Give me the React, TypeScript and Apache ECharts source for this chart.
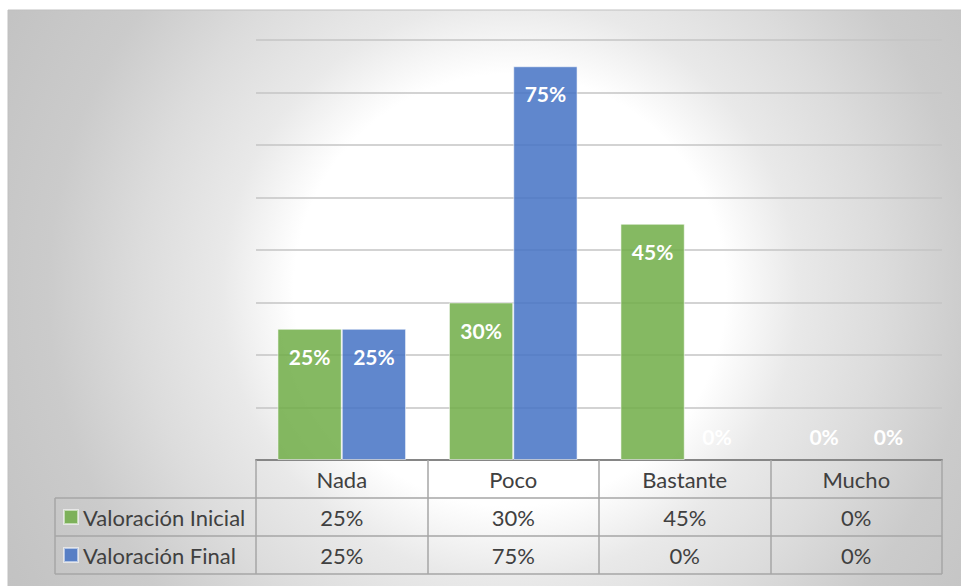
import { useEffect, useRef } from "react";
import * as echarts from "echarts";

// Survey results: share of answers per level, before and after
const categories = ["Nada", "Poco", "Bastante", "Mucho"];
const seriesNames = ["Valoración Inicial", "Valoración Final"];
const valoracionInicial = [25, 30, 45, 0];
const valoracionFinal = [25, 75, 0, 0];
const yAxisMax = 80;
const yAxisStep = 10;

const W = 961;
const H = 586;
const FONT = "Lato, 'Open Sans', sans-serif";
const TEXT = "#404040";
const TABLE_FONT = 22;

// plot area and data-table geometry
const gridLeft = 256;
const gridRight = 942;
const gridTop = 40;
const gridBottom = 460;
const rowH = 38;
const legendColLeft = 55;
const tableLine = "#a6a6a6";

const barData = (values: number[]) =>
  values.map((v) =>
    v === 0
      ? {
          value: v,
          itemStyle: { borderWidth: 0 },
          label: { position: "insideBottom", distance: 13 },
        }
      : v
  );

const tableLabel = {
  interval: 0,
  margin: 8,
  fontSize: TABLE_FONT,
  lineHeight: 22,
  color: TEXT,
  fontFamily: FONT,
};

const valueAxis = (idx: number, values: number[]) => ({
  type: "category",
  gridIndex: 0,
  position: "bottom",
  offset: rowH * idx,
  data: categories,
  axisLine: { show: false },
  axisTick: { show: false },
  splitLine: { show: false },
  axisLabel: {
    ...tableLabel,
    formatter: (_v: string, i: number) => `${values[i]}%`,
  },
});

export default function App() {
  const ref = useRef<HTMLDivElement>(null);

  useEffect(() => {
    if (!ref.current) return;
    const chart = echarts.init(ref.current, null, { renderer: "svg" });

    const tableRows = [1, 2, 3].map((i) => ({
      type: "line",
      z: 5,
      shape: {
        x1: legendColLeft,
        y1: gridBottom + i * rowH,
        x2: gridRight,
        y2: gridBottom + i * rowH,
      },
      style: { stroke: tableLine, lineWidth: 1.5 },
    }));

    chart.setOption({
      animation: false,
      backgroundColor: "#ffffff",
      textStyle: { fontFamily: FONT },
      graphic: [
        {
          type: "rect",
          z: -10,
          silent: true,
          shape: { x: 8, y: 10, width: W, height: H + 20 },
          style: {
            fill: new echarts.graphic.RadialGradient(
              510,
              290,
              600,
              [
                { offset: 0, color: "#ffffff" },
                { offset: 0.36, color: "#ffffff" },
                { offset: 0.48, color: "#e9e9e9" },
                { offset: 0.62, color: "#dcdcdc" },
                { offset: 0.77, color: "#cbcbcb" },
                { offset: 0.95, color: "#c3c3c3" },
                { offset: 1, color: "#c2c2c2" },
              ],
              true
            ),
            stroke: "#c0c0c0",
            lineWidth: 1,
          },
        },
        ...tableRows,
        {
          type: "line",
          z: 5,
          shape: {
            x1: legendColLeft,
            y1: gridBottom + rowH,
            x2: legendColLeft,
            y2: gridBottom + 3 * rowH,
          },
          style: { stroke: tableLine, lineWidth: 1.5 },
        },
      ],
      legend: {
        orient: "vertical",
        left: legendColLeft + 8,
        top: gridBottom + rowH + 8,
        padding: 0,
        itemWidth: 14,
        itemHeight: 14,
        itemGap: 16,
        icon: "rect",
        selectedMode: false,
        data: seriesNames,
        textStyle: {
          fontSize: TABLE_FONT,
          lineHeight: 22,
          color: TEXT,
          fontFamily: FONT,
        },
      },
      grid: {
        left: gridLeft,
        right: W - gridRight,
        top: gridTop,
        bottom: H - gridBottom,
        containLabel: false,
      },
      xAxis: [
        {
          type: "category",
          data: categories,
          position: "bottom",
          axisLine: { show: true, lineStyle: { color: "#868686", width: 2 } },
          axisTick: {
            show: true,
            length: rowH * 3,
            lineStyle: { color: tableLine, width: 1.5 },
          },
          axisLabel: tableLabel,
          splitLine: { show: false },
        },
        valueAxis(1, valoracionInicial),
        valueAxis(2, valoracionFinal),
      ],
      yAxis: {
        type: "value",
        min: 0,
        max: yAxisMax,
        interval: yAxisStep,
        axisLabel: { show: false },
        axisLine: { show: false },
        axisTick: { show: false },
        splitLine: { lineStyle: { color: "#c4c4c4", width: 1.5 } },
      },
      series: [
        { name: seriesNames[0], values: valoracionInicial, color: "rgba(112,173,71,0.85)" },
        { name: seriesNames[1], values: valoracionFinal, color: "rgba(68,114,196,0.85)" },
      ].map((s) => ({
        type: "bar",
        name: s.name,
        xAxisIndex: 0,
        data: barData(s.values),
        barGap: "0%",
        barCategoryGap: "25%",
        itemStyle: {
          color: s.color,
          borderColor: "rgba(255,255,255,0.55)",
          borderWidth: 1,
        },
        label: {
          show: true,
          position: "insideTop",
          distance: 17,
          formatter: "{c}%",
          color: "#ffffff",
          fontWeight: "bold",
          fontSize: 21,
          fontFamily: FONT,
        },
      })),
    });

    return () => chart.dispose();
  }, []);

  return (
    <div
      ref={ref}
      style={{ position: "fixed", left: 0, top: 0, width: W, height: H }}
    />
  );
}
